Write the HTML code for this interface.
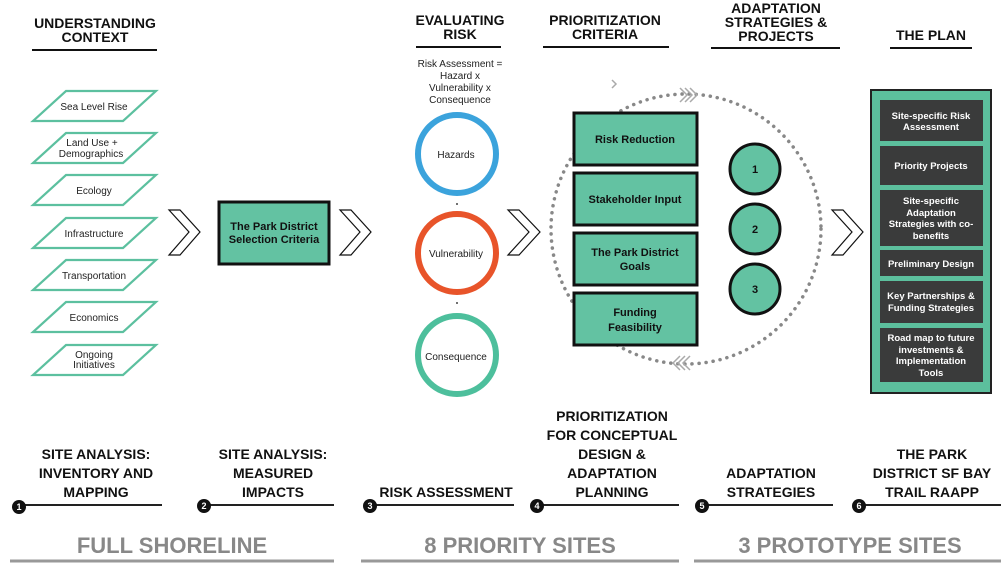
<!DOCTYPE html>
<html><head><meta charset="utf-8"><style>
html,body{margin:0;padding:0;background:#fff;}
svg{display:block;font-family:"Liberation Sans",sans-serif;}
.h{font-weight:bold;font-size:14px;fill:#111;text-anchor:middle;}
.p{font-size:10px;fill:#222;text-anchor:middle;}
.b{font-weight:bold;font-size:11px;fill:#111;text-anchor:middle;}
.w{font-weight:bold;font-size:9.5px;fill:#fff;text-anchor:middle;}
.s{font-weight:bold;font-size:14px;fill:#111;text-anchor:middle;}
.g{font-weight:bold;font-size:22px;fill:#888;text-anchor:middle;}
.n{font-weight:bold;font-size:9px;fill:#fff;text-anchor:middle;}
</style></head><body>
<svg width="1001" height="569" viewBox="0 0 1001 569" xmlns="http://www.w3.org/2000/svg">
<text class="h" x="95" y="28">UNDERSTANDING</text>
<text class="h" x="95" y="42">CONTEXT</text>
<line x1="32" y1="50" x2="157" y2="50" stroke="#111" stroke-width="2"/>
<text class="h" x="460" y="25">EVALUATING</text>
<text class="h" x="460" y="39">RISK</text>
<line x1="416" y1="47" x2="501" y2="47" stroke="#111" stroke-width="2"/>
<text class="h" x="605" y="25">PRIORITIZATION</text>
<text class="h" x="605" y="39">CRITERIA</text>
<line x1="543" y1="47" x2="669" y2="47" stroke="#111" stroke-width="2"/>
<text class="h" x="776" y="13">ADAPTATION</text>
<text class="h" x="776" y="27">STRATEGIES &amp;</text>
<text class="h" x="776" y="41">PROJECTS</text>
<line x1="711" y1="48" x2="840" y2="48" stroke="#111" stroke-width="2"/>
<text class="h" x="931" y="40">THE PLAN</text>
<line x1="890" y1="48" x2="972" y2="48" stroke="#111" stroke-width="2"/>

<g fill="#fff" stroke="#5cc09f" stroke-width="2.2">
<polygon points="66,91 156,91 123,121 33,121"/>
<polygon points="66,133 156,133 123,163 33,163"/>
<polygon points="66,175 156,175 123,205 33,205"/>
<polygon points="66,218 156,218 123,248 33,248"/>
<polygon points="66,260 156,260 123,290 33,290"/>
<polygon points="66,302 156,302 123,332 33,332"/>
<polygon points="66,345 156,345 123,375 33,375"/>
</g>
<text class="p" x="94" y="110">Sea Level Rise</text>
<text class="p" x="92" y="146">Land Use +</text>
<text class="p" x="91" y="157">Demographics</text>
<text class="p" x="94" y="194">Ecology</text>
<text class="p" x="94" y="237">Infrastructure</text>
<text class="p" x="94" y="279">Transportation</text>
<text class="p" x="94" y="321">Economics</text>
<text class="p" x="94" y="358">Ongoing</text>
<text class="p" x="94" y="368">Initiatives</text>

<g fill="#fff" stroke="#111" stroke-width="1.2">
<polygon points="169,210 180,210 200,232 180,255 169,255 189,232"/>
<polygon points="340,210 351,210 371,232 351,255 340,255 360,232"/>
<polygon points="508,210 519,210 540,232 519,255 508,255 529,232"/>
<polygon points="832,210 843,210 863,232 843,255 832,255 852,232"/>
</g>

<rect x="219" y="202" width="110" height="62" fill="#63c2a2" stroke="#111" stroke-width="3"/>
<text class="b" x="274" y="230" font-size="10.5">The Park District</text>
<text class="b" x="274" y="243" font-size="10.5">Selection Criteria</text>

<text class="p" x="460" y="67" font-size="9.5">Risk Assessment =</text>
<text class="p" x="460" y="79" font-size="9.5">Hazard x</text>
<text class="p" x="460" y="91" font-size="9.5">Vulnerability x</text>
<text class="p" x="460" y="103" font-size="9.5">Consequence</text>
<circle cx="457" cy="154" r="39" fill="none" stroke="#3ba3dc" stroke-width="6"/>
<circle cx="457" cy="253" r="39" fill="none" stroke="#e8542a" stroke-width="6"/>
<circle cx="457" cy="355" r="39" fill="none" stroke="#4dbf9c" stroke-width="6"/>
<text class="p" x="456" y="158" font-size="11.5">Hazards</text>
<text class="p" x="456" y="257" font-size="11.5">Vulnerability</text>
<text class="p" x="456" y="360" font-size="11.5">Consequence</text>
<circle cx="457" cy="204" r="1" fill="#444"/>
<circle cx="457" cy="303" r="1" fill="#444"/>

<circle cx="686" cy="229" r="135" fill="none" stroke="#888" stroke-width="3.5" stroke-dasharray="0.1 7" stroke-linecap="round"/>
<g fill="none" stroke="#aaa" stroke-width="1.5">
<polyline points="680,88 687,95 680,102"/><polyline points="685,88 692,95 685,102"/><polyline points="690,88 697,95 690,102"/>
<polyline points="690,356 683,363 690,370"/><polyline points="685,356 678,363 685,370"/><polyline points="680,356 673,363 680,370"/>
<polyline points="612,80 616,84 612,88"/>
</g>

<g fill="#63c2a2" stroke="#111" stroke-width="3">
<rect x="574" y="113" width="123" height="52"/>
<rect x="574" y="173" width="123" height="52"/>
<rect x="574" y="233" width="123" height="52"/>
<rect x="574" y="293" width="123" height="52"/>
</g>
<text class="b" x="635" y="143">Risk Reduction</text>
<text class="b" x="635" y="203">Stakeholder Input</text>
<text class="b" x="635" y="256">The Park District</text>
<text class="b" x="635" y="270">Goals</text>
<text class="b" x="635" y="316">Funding</text>
<text class="b" x="635" y="331">Feasibility</text>

<g fill="#63c2a2" stroke="#111" stroke-width="3">
<circle cx="755" cy="169" r="25"/>
<circle cx="755" cy="229" r="25"/>
<circle cx="755" cy="289" r="25"/>
</g>
<text class="b" x="755" y="173">1</text>
<text class="b" x="755" y="233">2</text>
<text class="b" x="755" y="293">3</text>

<rect x="871" y="90" width="120" height="303" fill="#5cbf9d" stroke="#222" stroke-width="2"/>
<g fill="#3a3b3b">
<rect x="880" y="100" width="103" height="41"/>
<rect x="880" y="146" width="103" height="39"/>
<rect x="880" y="190" width="103" height="56"/>
<rect x="880" y="250" width="103" height="26"/>
<rect x="880" y="281" width="103" height="42"/>
<rect x="880" y="328" width="103" height="54"/>
</g>
<text class="w" x="931" y="119">Site-specific Risk</text>
<text class="w" x="931" y="130">Assessment</text>
<text class="w" x="931" y="169">Priority Projects</text>
<text class="w" x="931" y="204">Site-specific</text>
<text class="w" x="931" y="216">Adaptation</text>
<text class="w" x="931" y="227">Strategies with co-</text>
<text class="w" x="931" y="239">benefits</text>
<text class="w" x="931" y="267">Preliminary Design</text>
<text class="w" x="931" y="299">Key Partnerships &amp;</text>
<text class="w" x="931" y="311">Funding Strategies</text>
<text class="w" x="931" y="341">Road map to future</text>
<text class="w" x="931" y="353">investments &amp;</text>
<text class="w" x="931" y="364">Implementation</text>
<text class="w" x="931" y="376">Tools</text>

<text class="s" x="96" y="459">SITE ANALYSIS:</text>
<text class="s" x="96" y="478">INVENTORY AND</text>
<text class="s" x="96" y="497">MAPPING</text>
<text class="s" x="273" y="459">SITE ANALYSIS:</text>
<text class="s" x="273" y="478">MEASURED</text>
<text class="s" x="273" y="497">IMPACTS</text>
<text class="s" x="446" y="497">RISK ASSESSMENT</text>
<text class="s" x="612" y="421">PRIORITIZATION</text>
<text class="s" x="612" y="440">FOR CONCEPTUAL</text>
<text class="s" x="612" y="459">DESIGN &amp;</text>
<text class="s" x="612" y="478">ADAPTATION</text>
<text class="s" x="612" y="497">PLANNING</text>
<text class="s" x="771" y="478">ADAPTATION</text>
<text class="s" x="771" y="497">STRATEGIES</text>
<text class="s" x="932" y="459">THE PARK</text>
<text class="s" x="932" y="478">DISTRICT SF BAY</text>
<text class="s" x="932" y="497">TRAIL RAAPP</text>
<g stroke="#222" stroke-width="2">
<line x1="20" y1="505" x2="162" y2="505"/>
<line x1="204" y1="505" x2="334" y2="505"/>
<line x1="370" y1="505" x2="514" y2="505"/>
<line x1="537" y1="505" x2="679" y2="505"/>
<line x1="702" y1="505" x2="833" y2="505"/>
<line x1="860" y1="505" x2="1001" y2="505"/>
</g>
<g fill="#111">
<circle cx="19" cy="507" r="7"/><circle cx="204" cy="506" r="7"/><circle cx="370" cy="506" r="7"/>
<circle cx="537" cy="506" r="7"/><circle cx="702" cy="506" r="7"/><circle cx="859" cy="506" r="7"/>
</g>
<text class="n" x="19" y="510">1</text><text class="n" x="204" y="509">2</text><text class="n" x="370" y="509">3</text>
<text class="n" x="537" y="509">4</text><text class="n" x="702" y="509">5</text><text class="n" x="859" y="509">6</text>

<text class="g" x="172" y="553">FULL SHORELINE</text>
<text class="g" x="520" y="553">8 PRIORITY SITES</text>
<text class="g" x="850" y="553">3 PROTOTYPE SITES</text>
<g stroke="#999" stroke-width="3">
<line x1="10" y1="561" x2="334" y2="561"/>
<line x1="361" y1="561" x2="679" y2="561"/>
<line x1="694" y1="561" x2="1001" y2="561"/>
</g>
</svg>
</body></html>
